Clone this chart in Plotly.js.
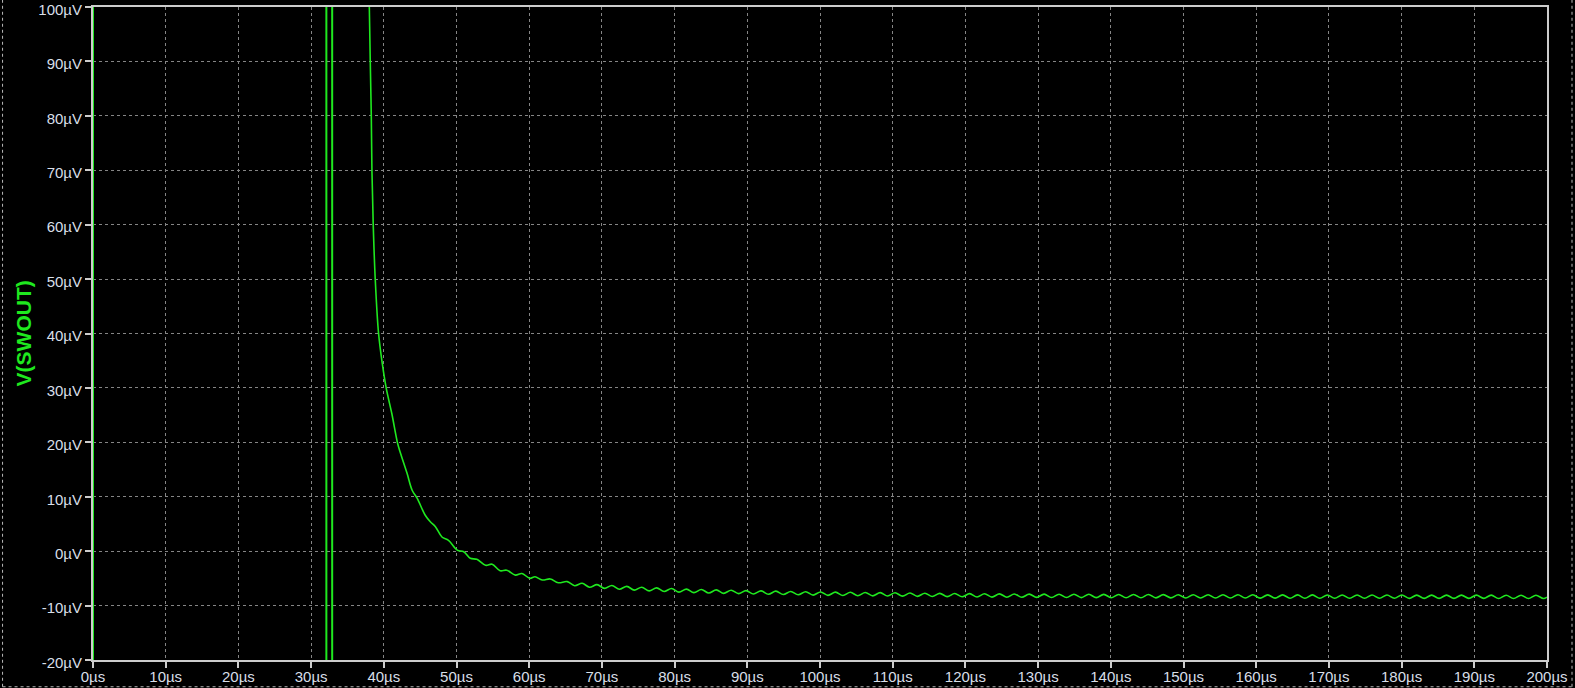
<!DOCTYPE html>
<html>
<head>
<meta charset="utf-8">
<script src="https://cdn.plot.ly/plotly-3.0.1.min.js"></script>
<style>
  html, body { margin: 0; padding: 0; background: #000; }
  #chart { width: 1575px; height: 688px; }
</style>
</head>
<body>
<div id="chart"></div>
<script>
// Switching edges (off-scale excursions), µs / µV
const spikeTimes = [0, 0, 32.1, 32.1, 32.9, 32.9, 37.85];
const spikeVolts = [-1000, 1000, 1000, -1000, -1000, 1000, 1000];

// Decay after the last edge, µs / µV
const decayTimes = [37.85, 38.01, 38.14, 38.28, 38.37, 38.55, 38.83, 39.28, 39.79, 40.34,
  41.1, 41.9, 42.3, 43.2, 43.9, 44.6, 45.7, 46.4, 47.1, 48.0,
  48.9, 50.1, 51.0, 51.9, 52.8, 54.0, 54.9, 56.0, 56.9, 58.1,
  59.0, 60.1, 60.8, 61.8, 62.9, 64.0];
const decayVolts = [110, 99.9, 89.8, 79.8, 69.8, 59.8, 49.8, 40.0, 34.5, 29.9,
  25.3, 19.8, 18.0, 14.3, 11.2, 9.7, 6.6, 5.4, 4.5, 2.6,
  2.0, 0.2, -0.1, -1.3, -1.5, -2.6, -2.4, -3.6, -3.5, -4.4,
  -4.1, -5.0, -4.7, -5.3, -5.1, -5.8];

// Settled ripple: peaks and troughs, µs / µV
const rippleTimes = [65.23, 66.25, 67.28, 68.30, 69.33, 70.35, 71.38, 72.40, 73.43, 74.45,
  75.48, 76.50, 77.53, 78.55, 79.58, 80.60, 81.63, 82.65, 83.68, 84.70,
  85.73, 86.75, 87.78, 88.80, 89.83, 90.85, 91.88, 92.90, 93.93, 94.95,
  95.98, 97.00, 98.03, 99.05, 100.08, 101.10, 102.13, 103.15, 104.18, 105.20,
  106.23, 107.25, 108.28, 109.30, 110.33, 111.35, 112.38, 113.40, 114.43, 115.45,
  116.48, 117.50, 118.53, 119.55, 120.58, 121.60, 122.63, 123.65, 124.68, 125.70,
  126.73, 127.75, 128.78, 129.80, 130.83, 131.85, 132.88, 133.90, 134.93, 135.95,
  136.98, 138.00, 139.03, 140.05, 141.08, 142.10, 143.13, 144.15, 145.18, 146.20,
  147.23, 148.25, 149.28, 150.30, 151.33, 152.35, 153.38, 154.40, 155.43, 156.45,
  157.48, 158.50, 159.53, 160.55, 161.58, 162.60, 163.63, 164.65, 165.68, 166.70,
  167.73, 168.75, 169.78, 170.80, 171.83, 172.85, 173.88, 174.90, 175.93, 176.95,
  177.98, 179.00, 180.03, 181.05, 182.08, 183.10, 184.13, 185.15, 186.18, 187.20,
  188.23, 189.25, 190.28, 191.30, 192.33, 193.35, 194.38, 195.40, 196.43, 197.45,
  198.48, 199.50, 200.00];
const rippleVolts = [-5.60, -6.35, -5.90, -6.63, -6.15, -6.83, -6.31, -6.99, -6.47, -7.16,
  -6.63, -7.29, -6.75, -7.41, -6.87, -7.52, -6.97, -7.61, -7.05, -7.69,
  -7.12, -7.75, -7.18, -7.81, -7.25, -7.87, -7.30, -7.92, -7.35, -7.97,
  -7.40, -8.02, -7.45, -8.07, -7.50, -8.12, -7.53, -8.15, -7.56, -8.18,
  -7.59, -8.21, -7.62, -8.24, -7.65, -8.27, -7.69, -8.30, -7.72, -8.33,
  -7.75, -8.36, -7.78, -8.39, -7.80, -8.42, -7.83, -8.44, -7.85, -8.46,
  -7.87, -8.48, -7.89, -8.50, -7.90, -8.51, -7.91, -8.52, -7.92, -8.53,
  -7.93, -8.54, -7.94, -8.55, -7.95, -8.56, -7.96, -8.57, -7.97, -8.58,
  -7.99, -8.59, -8.00, -8.60, -8.00, -8.60, -8.00, -8.61, -8.01, -8.62,
  -8.02, -8.62, -8.02, -8.63, -8.03, -8.63, -8.03, -8.64, -8.04, -8.64,
  -8.04, -8.65, -8.05, -8.65, -8.05, -8.65, -8.05, -8.66, -8.06, -8.66,
  -8.06, -8.66, -8.06, -8.67, -8.07, -8.67, -8.07, -8.67, -8.07, -8.68,
  -8.08, -8.68, -8.08, -8.68, -8.08, -8.69, -8.09, -8.69, -8.09, -8.70,
  -8.10, -8.70, -8.45];

// Tick labels
const xTickVals = [0, 10, 20, 30, 40, 50, 60, 70, 80, 90, 100, 110, 120, 130, 140, 150, 160, 170, 180, 190, 200];
const xTickText = ['0µs', '10µs', '20µs', '30µs', '40µs', '50µs', '60µs', '70µs', '80µs', '90µs', '100µs',
  '110µs', '120µs', '130µs', '140µs', '150µs', '160µs', '170µs', '180µs', '190µs', '200µs'];
const yTickVals = [-20, -10, 0, 10, 20, 30, 40, 50, 60, 70, 80, 90, 100];
const yTickText = ['-20µV', '-10µV', '0µV', '10µV', '20µV', '30µV', '40µV', '50µV', '60µV', '70µV', '80µV', '90µV', '100µV'];

const traceColor = '#1fe81f';

const traces = [
  {
    x: spikeTimes, y: spikeVolts, type: 'scatter', mode: 'lines',
    line: { color: traceColor, width: 2 }, hoverinfo: 'skip'
  },
  {
    x: decayTimes.concat(rippleTimes), y: decayVolts.concat(rippleVolts),
    type: 'scatter', mode: 'lines',
    line: { color: traceColor, width: 1.6, shape: 'spline', smoothing: 1 }, hoverinfo: 'skip'
  }
];

const tickFont = { family: 'Liberation Sans, Arial, sans-serif', size: 15, color: '#d8dfe8' };
const axisCommon = {
  showgrid: true, gridcolor: '#858585', gridwidth: 1, griddash: '3px,3px',
  zeroline: false, showline: true, mirror: true, linecolor: '#cccccc', linewidth: 2,
  ticks: 'outside', ticklen: 6, tickwidth: 2, tickcolor: '#cccccc',
  tickfont: tickFont, layer: 'below traces', fixedrange: true,
  ticklabeloverflow: 'allow'
};

const dotLine = { color: '#b8b8b8', width: 1, dash: 'dot' };
const layout = {
  width: 1575, height: 688,
  paper_bgcolor: '#000000', plot_bgcolor: '#000000',
  margin: { l: 93, r: 28, t: 7, b: 28, pad: 0 },
  showlegend: false,
  xaxis: Object.assign({}, axisCommon, {
    range: [0, 200], tickmode: 'array', tickvals: xTickVals, ticktext: xTickText,
    ticklabelstandoff: -4
  }),
  yaxis: Object.assign({}, axisCommon, {
    range: [-20, 100], tickmode: 'array', tickvals: yTickVals, ticktext: yTickText
  }),
  annotations: [{
    text: '<b>V(SWOUT)</b>', xref: 'paper', yref: 'paper',
    x: -0.0475, y: 0.5, xanchor: 'center', yanchor: 'middle', textangle: -90,
    showarrow: false,
    font: { family: 'Liberation Sans, Arial, sans-serif', size: 21, color: traceColor }
  }],
  shapes: [
    { type: 'line', xref: 'paper', yref: 'paper', x0: -0.0622, x1: -0.0622, y0: -0.041, y1: 1.011, line: dotLine },
    { type: 'line', xref: 'paper', yref: 'paper', x0: 1.0172, x1: 1.0172, y0: -0.041, y1: 1.011, line: dotLine },
    { type: 'line', xref: 'paper', yref: 'paper', x0: -0.0622, x1: 1.0172, y0: -0.041, y1: -0.041, line: dotLine }
  ]
};

Plotly.newPlot('chart', traces, layout, { displayModeBar: false, staticPlot: true }).then(function (gd) {
  // LTspice draws the value labels slightly below their tick marks
  gd.querySelectorAll('g.ytick').forEach(function (g) {
    g.setAttribute('transform', 'translate(0,2.5)');
  });
});
</script>
</body>
</html>
